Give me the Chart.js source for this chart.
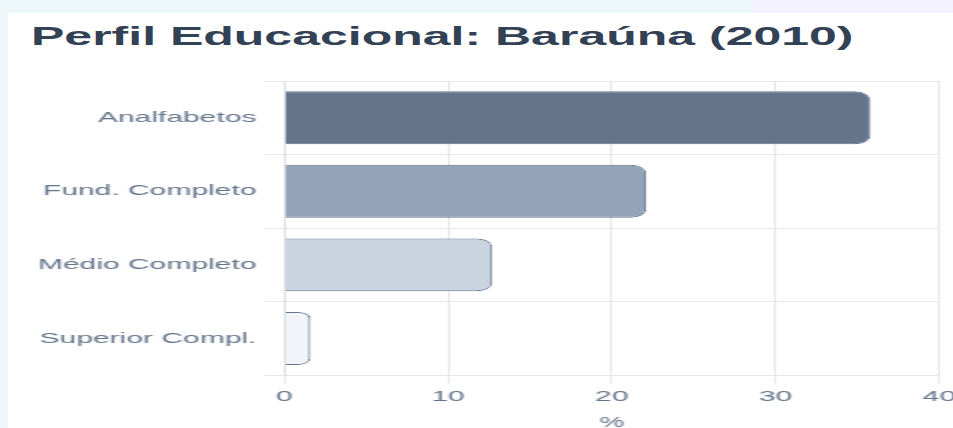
<!DOCTYPE html>
<html lang="pt-BR">
<head>
<meta charset="utf-8">
<title>Perfil Educacional: Baraúna (2010)</title>
<script src="https://cdn.jsdelivr.net/npm/chart.js@4.4.1/dist/chart.umd.min.js"></script>
<style>
  html, body { margin: 0; padding: 0; width: 953px; height: 428px; overflow: hidden; }
  body {
    background: linear-gradient(to right, #eef7fa 0, #eef7fa 752px, #f4f2fd 752px);
    font-family: "Liberation Sans", Arial, sans-serif;
  }
  /* a captura original parece esticada na horizontal: desenha em meia largura e estica 2x */
  #palco { position: absolute; left: 0; top: 0; width: 477px; height: 428px; transform: scaleX(2); transform-origin: 0 0; }
  #cartao { position: absolute; left: 3.5px; top: 13px; right: 0; bottom: 0; background: #fff; }
  #titulo {
    position: absolute; left: 15.5px; top: 24px; margin: 0;
    font-size: 25px; line-height: 25px; font-weight: bold; color: #334155; white-space: nowrap;
  }
  #grafico-box { position: absolute; left: 0; top: 68px; width: 483px; height: 368px; }
</style>
</head>
<body>
<div id="palco">
  <div id="cartao"></div>
  <h2 id="titulo">Perfil Educacional: Baraúna (2010)</h2>
  <div id="grafico-box"><canvas id="meuGrafico"></canvas></div>
</div>
<script>
const categorias = ['Analfabetos', 'Fund. Completo', 'Médio Completo', 'Superior Compl.'];
const percentuais = [35.8, 22.1, 12.7, 1.6];
const coresBarras = ['#64748b', '#94a3b8', '#cbd5e1', '#f1f5f9'];
const ticksX = [0, 10, 20, 30, 40];

Chart.defaults.font.family = '"Liberation Sans", Arial, sans-serif';

const graficoCanvas = document.getElementById('meuGrafico').getContext('2d');

const meuGrafico = new Chart(graficoCanvas, {
    type: 'bar',
    data: {
        labels: categorias,
        datasets: [{
            label: '%',
            data: percentuais,
            backgroundColor: coresBarras,
            borderColor: '#64748b',
            borderWidth: 1,
            borderRadius: 8,
            borderSkipped: 'start'
        }]
    },
    options: {
        indexAxis: 'y',
        responsive: true,
        maintainAspectRatio: false,
        animation: false,
        layout: {
            padding: { left: 15, top: 10.5, right: 0, bottom: 0 }
        },
        plugins: {
            legend: { display: false },
            tooltip: { enabled: false }
        },
        scales: {
            x: {
                min: 0,
                max: 40,
                afterBuildTicks: (escala) => {
                    escala.ticks = ticksX.map(v => ({ value: v }));
                },
                grid: { color: '#e5e7eb', tickLength: 8 },
                border: { color: '#e5e7eb' },
                ticks: { color: '#64748b', font: { size: 15 }, padding: 5 },
                title: { display: true, text: '%', color: '#64748b', font: { size: 14 } }
            },
            y: {
                grid: { color: '#e5e7eb', tickLength: 10 },
                border: { color: '#dcdfe4' },
                ticks: { color: '#64748b', font: { size: 15 }, padding: 4 }
            }
        }
    }
});
</script>
</body>
</html>
